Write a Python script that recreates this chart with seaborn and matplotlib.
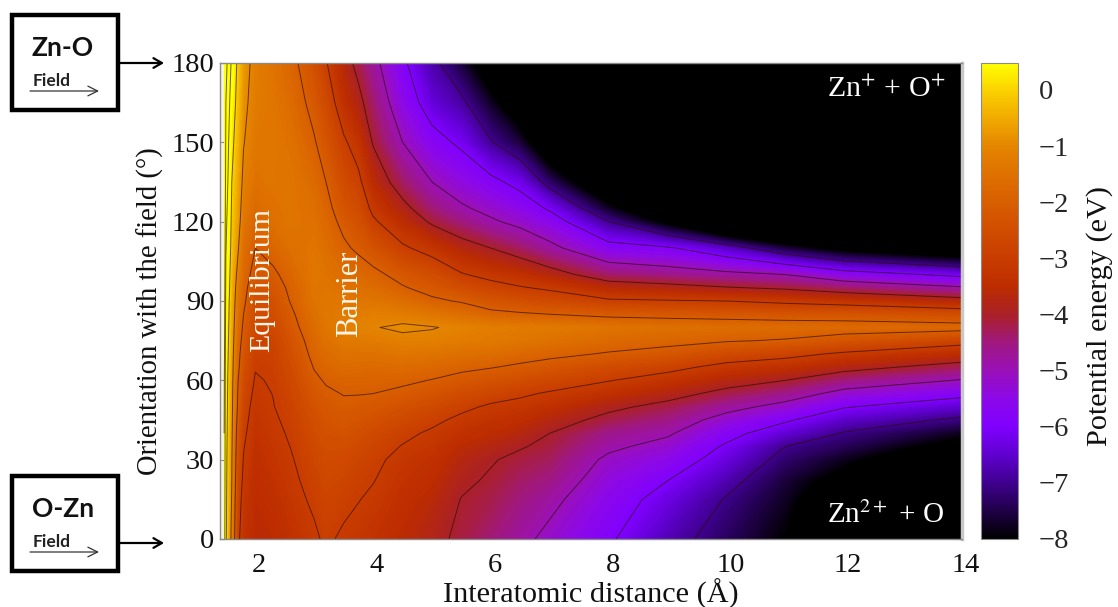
import numpy as np
import matplotlib
matplotlib.use('Agg')
import matplotlib.pyplot as plt
import seaborn as sns
from matplotlib.cm import ScalarMappable
from matplotlib.colors import Normalize
from matplotlib.patches import Rectangle
from matplotlib.transforms import ScaledTranslation

sns.set_style('white')
plt.rcParams['font.family'] = ['Liberation Serif', 'DejaVu Serif']
plt.rcParams['mathtext.fontset'] = 'stix'

# --- Data ---
distance = [1.47, 1.5, 1.6, 1.7, 1.8, 2.0, 2.3, 2.6, 3.0, 3.2, 3.5, 3.75, 4.0, 4.5, 5.0, 5.5, 6.0, 6.5, 7.0, 8.0, 9.0, 10.0, 11.0, 12.0, 14.0]
orientation = [180, 165, 150, 135, 125, 120, 110, 100, 95, 90, 85, 80, 75, 70, 65, 60, 55, 50, 45, 40, 35, 30, 22, 15, 0]

# potential energy (eV), one list per distance, in the order of orientation
e_14 = [5, 4.6, 4.2, 3.9, 3.65, 3.5, 3.3, 3, 2.9, 2.8, 2.7, 2.6, 2.5, 2.4, 2.3, 2.2, 2.15, 2.1, 2.05, 2, 1.95, 1.9, 1.85, 1.8, 1.6]
e_15 = [2.3, 2, 1.7, 1.5, 1.3, 1.2, 1.05, 0.85, 0.75, 0.65, 0.6, 0.55, 0.5, 0.45, 0.4, 0.35, 0.32, 0.3, 0.27, 0.25, 0.22, 0.2, 0.17, 0.15, 0.1]
e_16 = [0.8, 0.45, 0.2, 0, -0.1, -0.15, -0.25, -0.4, -0.45, -0.5, -0.55, -0.6, -0.65, -0.7, -0.75, -0.8, -0.82, -0.85, -0.87, -0.9, -0.93, -0.97, -1.0, -1.05, -1.2]
e_17 = [-0.15, -0.25, -0.4, -0.55, -0.65, -0.7, -0.9, -1.15, -1.3, -1.4, -1.5, -1.6, -1.7, -1.8, -1.85, -1.95, -2.0, -2.05, -2.18, -2.3, -2.38, -2.45, -2.58, -2.7, -2.85]
e_18 = [-0.75, -0.85, -0.97, -1.15, -1.3, -1.4, -1.6, -1.75, -1.85, -1.9, -2, -2.1, -2.2, -2.3, -2.4, -2.55, -2.65, -2.75, -2.83, -2.9, -2.97, -3.03, -3.12, -3.2, -3.3]
e_20 = [-1.2, -1.25, -1.35, -1.5, -1.7, -1.8, -2, -2.2, -2.3, -2.45, -2.55, -2.65, -2.75, -2.87, -2.97, -3.05, -3.13, -3.2, -3.25, -3.3, -3.35, -3.4, -3.45, -3.5, -3.55]
e_23 = [-1.45, -1.4, -1.35, -1.4, -1.5, -1.55, -1.8, -2.1, -2.25, -2.4, -2.5, -2.65, -2.75, -2.85, -2.9, -2.95, -2.99, -3.02, -3.08, -3.15, -3.2, -3.25, -3.33, -3.4, -3.5]
e_26 = [-1.8, -1.65, -1.5, -1.4, -1.4, -1.4, -1.55, -1.8, -1.9, -1.97, -2.1, -2.2, -2.35, -2.45, -2.55, -2.65, -2.73, -2.8, -2.87, -2.93, -2.99, -3.05, -3.13, -3.2, -3.35]
e_30 = [-2.45, -2.2, -1.95, -1.7, -1.57, -1.5, -1.4, -1.35, -1.4, -1.45, -1.55, -1.65, -1.75, -1.85, -1.97, -2.1, -2.23, -2.35, -2.45, -2.55, -2.63, -2.7, -2.8, -2.9, -3.1]
e_32 = [-2.95, -2.6, -2.3, -2.0, -1.83, -1.75, -1.6, -1.45, -1.4, -1.35, -1.35, -1.4, -1.5, -1.65, -1.8, -1.95, -2.08, -2.2, -2.3, -2.4, -2.48, -2.55, -2.65, -2.75, -2.9]
e_35 = [-3.7, -3.4, -2.9, -2.55, -2.3, -2.15, -1.9, -1.6, -1.5, -1.35, -1.25, -1.15, -1.3, -1.5, -1.65, -1.85, -1.98, -2.1, -2.22, -2.35, -2.48, -2.6, -2.73, -2.85, -3.1]
e_375 = [-4.2, -3.8, -3.3, -2.85, -2.55, -2.4, -2.1, -1.7, -1.55, -1.4, -1.2, -1.08, -1.27, -1.5, -1.68, -1.85, -1.98, -2.15, -2.3, -2.45, -2.6, -2.72, -2.88, -2.98, -3.2]
e_40 = [-4.75, -4.4, -4.05, -3.55, -3.15, -2.9, -2.35, -1.85, -1.65, -1.4, -1.15, -1.03, -1.25, -1.5, -1.7, -1.85, -2.0, -2.2, -2.4, -2.6, -2.73, -2.85, -2.98, -3.1, -3.3]
e_45 = [-5.85, -5.5, -5, -4.35, -3.8, -3.5, -2.9, -2.2, -1.95, -1.6, -1.25, -0.9, -1.15, -1.4, -1.65, -1.9, -2.12, -2.4, -2.63, -2.85, -3.03, -3.2, -3.3, -3.4, -3.55]
e_50 = [-6.8, -6.4, -5.7, -5, -4.45, -4.1, -3.25, -2.5, -2.2, -1.9, -1.4, -0.97, -1.15, -1.45, -1.75, -2.02, -2.3, -2.6, -2.85, -3.1, -3.22, -3.35, -3.48, -3.6, -3.8]
e_55 = [-7.6, -6.85, -6.15, -5.4, -4.9, -4.5, -3.7, -2.95, -2.5, -2.05, -1.6, -1.1, -1.22, -1.55, -1.87, -2.2, -2.55, -2.85, -3.15, -3.35, -3.55, -3.7, -3.88, -4.02, -4.15]
e_60 = [-8.6, -7.75, -6.95, -5.8, -5.2, -4.9, -4, -3.2, -2.75, -2.3, -1.85, -1.2, -1.3, -1.6, -1.97, -2.35, -2.7, -3.1, -3.3, -3.5, -3.72, -3.95, -4.08, -4.2, -4.45]
e_65 = [-10, -8.7, -7.6, -6.25, -5.55, -5.2, -4.35, -3.4, -2.95, -2.45, -1.93, -1.25, -1.4, -1.75, -2.1, -2.5, -2.9, -3.2, -3.45, -3.7, -3.95, -4.15, -4.35, -4.5, -4.8]
e_70 = [-12, -10.3, -8.9, -7.3, -6.1, -5.6, -4.8, -3.7, -3.1, -2.6, -2, -1.3, -1.5, -1.85, -2.25, -2.65, -3.07, -3.4, -3.7, -4, -4.15, -4.3, -4.55, -4.8, -5.2]
e_80 = [-15, -13, -11, -9, -7.75, -7, -5.7, -4.4, -3.6, -2.9, -2.15, -1.45, -1.7, -2.05, -2.55, -2.97, -3.4, -3.85, -4.2, -4.6, -4.85, -5.15, -5.4, -5.6, -5.9]
e_90 = [-16.5, -14.5, -12.5, -10.5, -9, -8.2, -5.9, -4.6, -3.75, -2.95, -2.2, -1.55, -1.8, -2.25, -2.8, -3.3, -3.75, -4.2, -4.55, -4.9, -5.25, -5.55, -6, -6.3, -6.7]
e_100 = [-18, -16, -14, -12, -10.7, -9.7, -6.6, -4.8, -3.95, -3, -2.25, -1.6, -1.95, -2.6, -3.2, -3.7, -4.2, -4.75, -5.3, -5.75, -6.1, -6.35, -6.75, -7.05, -7.35]
e_110 = [-20, -18, -15.5, -13, -11.3, -10.3, -7.6, -5, -4.1, -3.15, -2.3, -1.65, -2.05, -2.8, -3.4, -4, -4.6, -5.25, -5.9, -6.45, -7, -7.25, -7.6, -7.75, -8]
e_120 = [-22, -20, -17, -14, -11.9, -10.6, -8.3, -5.6, -4.4, -3.3, -2.3, -1.7, -2.3, -3.1, -3.75, -4.5, -5.25, -5.95, -6.55, -7.05, -7.4, -7.8, -8.3, -8.8, -9.8]
e_140 = [-25, -22, -19, -15.5, -13, -11.5, -9, -6.2, -4.9, -3.7, -2.5, -1.75, -2.75, -3.5, -4.3, -5.05, -5.78, -6.5, -7.15, -7.8, -8.35, -9, -9.9, -10.7, -12]

energy_columns = [e_14, e_15, e_16, e_17, e_18, e_20, e_23, e_26, e_30, e_32, e_35, e_375, e_40, e_45, e_50, e_55,
                  e_60, e_65, e_70, e_80, e_90, e_100, e_110, e_120, e_140]

# the -8 line sits on the edge of the black area and does not show in the picture
contour_levels = [-7, -6, -5, -4, -3, -2, -1, 0, 1, 2]
energy_ticks = [0, -1, -2, -3, -4, -5, -6, -7, -8]
distance_ticks = [2, 4, 6, 8, 10, 12, 14]
orientation_ticks = [0, 30, 60, 90, 120, 150, 180]

# colours of the scale from -8 to +0.5, every half eV
scale_colors = ['#000000', '#200048', '#400090', '#6000d0', '#8000ff', '#8c08e8', '#9a10b8', '#a01880',
                '#aa2028', '#bc2c00', '#c83c00', '#d04c00', '#d85e00', '#de7000', '#e48400', '#f0a800',
                '#fad000', '#ffff00']

W, H = 1118, 607
GRAY = '#8a8a8a'


def px_axes(left, top, right, bottom):
    # axes rectangle given in pixels of the final picture
    return fig.add_axes([left / W, 1 - bottom / H, (right - left) / W, (bottom - top) / H])


fig = plt.figure(figsize=(W / 100, H / 100), dpi=100)
cmap = sns.blend_palette(scale_colors, as_cmap=True)
norm = Normalize(vmin=-8, vmax=0.5)

# --- Main map ---
ax = px_axes(220, 63, 962, 539)
ax.set_facecolor('#f4f4dc')
z = np.array(energy_columns).T[::-1]
y = orientation[::-1]
ax.contourf(distance, y, z, levels=np.linspace(-8, 0.5, 171), cmap=cmap, norm=norm, extend='both', antialiased=False)
ax.contour(distance, y, z, levels=contour_levels, colors='#2a0c00', linewidths=0.7, alpha=0.65, linestyles='solid')
ax.set_xlim(1.4, 14)
ax.set_ylim(0, 180)
ax.set_xticks(distance_ticks)
ax.set_yticks(orientation_ticks)
ax.tick_params(labelsize=20.5, direction='in', length=4, width=0.8, color=GRAY, top=True, right=True,
               bottom=True, left=True, labelcolor='#111111')
ax.tick_params(axis='x', pad=10)
ax.tick_params(axis='y', pad=4)
for label in ax.get_xticklabels():
    label.set_transform(label.get_transform() + ScaledTranslation(4 / 100, 0, fig.dpi_scale_trans))
for s in ax.spines.values():
    s.set_color(GRAY)
    s.set_linewidth(1.0)
ax.spines['right'].set_color('#c8c8c8')
ax.spines['right'].set_linewidth(2.5)

ax.text(2.12, 98, 'Equilibrium', color='#fff6ea', fontsize=21.5, rotation=90, ha='center', va='center')
ax.text(3.6, 92.6, 'Barrier', color='#fff6ea', fontsize=22, rotation=90, ha='center', va='center')
ax.text(11.7, 170, 'Zn$^{+}$ + O$^{+}$', color='white', fontsize=21.5, ha='left', va='center')
ax.text(11.7, 9, 'Zn$^{2+}$ + O', color='white', fontsize=21, ha='left', va='center')

# --- Colour bar ---
cax = px_axes(981, 63, 1018, 539)
cbar = fig.colorbar(ScalarMappable(norm=Normalize(vmin=-8, vmax=0.48), cmap=cmap), cax=cax)
cbar.set_ticks(energy_ticks)
cbar.ax.tick_params(labelsize=20.5, direction='in', length=3, width=0.6, color=GRAY, pad=15, left=True, right=True)
cbar.outline.set_edgecolor(GRAY)
cbar.outline.set_linewidth(0.8)

# --- Axis titles and field boxes, drawn in pixel coordinates ---
over = fig.add_axes([0, 0, 1, 1], facecolor='none')
over.set_xlim(0, W)
over.set_ylim(H, 0)
over.axis('off')

over.text(591, 594, 'Interatomic distance (Å)', fontsize=21.8, ha='center', va='center', color='#111111')
over.text(150, 311, 'Orientation with the field (°)', fontsize=20.6, rotation=90, ha='center', va='center', color='#111111')
over.text(1100, 316, 'Potential energy (eV)', fontsize=21.8, rotation=90, ha='center', va='center', color='#111111')

box_names = ['Zn-O', 'O-Zn']
box_tops = [15, 476]
arrow_rows = [63, 543]
for name, top, row in zip(box_names, box_tops, arrow_rows):
    over.add_patch(Rectangle((12, top), 106, 95, fill=False, edgecolor='black', linewidth=3.2))
    over.text(63, top + 33, name, family='Lato', fontweight='bold', fontsize=19, ha='center', va='center', color='#111111')
    over.text(33, top + 66, 'Field', family='Lato', fontweight='bold', fontsize=12.5, ha='left', va='center', color='#222222')
    over.annotate('', xy=(99, top + 76), xytext=(30, top + 76),
                  arrowprops=dict(arrowstyle='->,head_length=0.7,head_width=0.35', color='#333333', lw=0.9, shrinkA=0, shrinkB=0))
    over.annotate('', xy=(164, row), xytext=(118, row),
                  arrowprops=dict(arrowstyle='->,head_length=0.6,head_width=0.35', color='black', lw=1.6, shrinkA=0, shrinkB=0))

fig.savefig('out.png', dpi=100)
